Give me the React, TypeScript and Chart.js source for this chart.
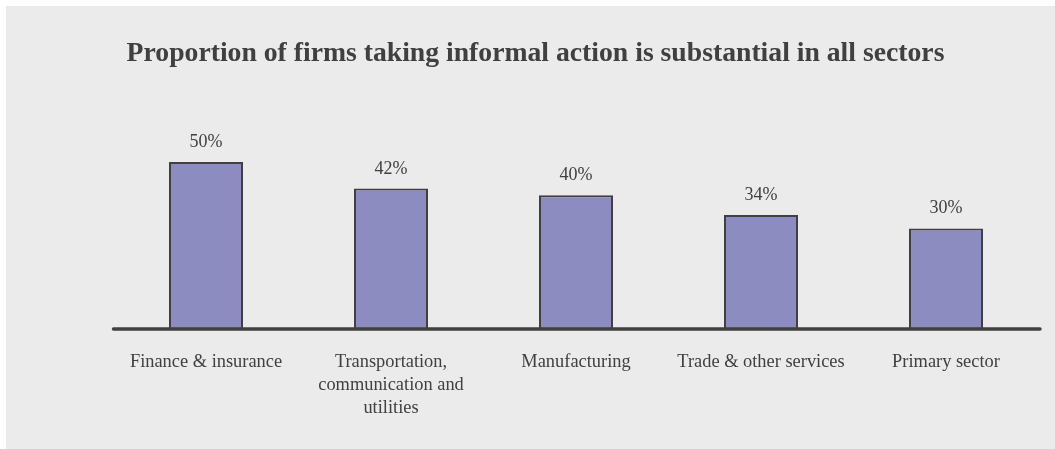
import React, { useEffect, useRef } from "react";
import { Chart, registerables } from "chart.js";

Chart.register(...registerables);

const TITLE = "Proportion of firms taking informal action is substantial in all sectors";
const categories: string[][] = [
  ["Finance & insurance"],
  ["Transportation,", "communication and", "utilities"],
  ["Manufacturing"],
  ["Trade & other services"],
  ["Primary sector"],
];
const values = [50, 42, 40, 34, 30];
const valueLabels = ["50%", "42%", "40%", "34%", "30%"];

const TEXT = "#404040";
const FONT = '"Liberation Serif", "Times New Roman", serif';

export default function App() {
  const ref = useRef<HTMLCanvasElement>(null);
  useEffect(() => {
    if (!ref.current) return;
    const overlay = {
      id: "overlay",
      afterDatasetsDraw(chart: any) {
        const ctx = chart.ctx;
        const x = chart.scales.x;
        const y = chart.scales.y;
        const base = y.getPixelForValue(0);
        ctx.save();
        // axis line
        ctx.strokeStyle = TEXT;
        ctx.lineWidth = 3.5;
        ctx.lineCap = "round";
        ctx.beginPath();
        ctx.moveTo(chart.chartArea.left, base + 1);
        ctx.lineTo(chart.chartArea.right + 1.5, base + 1);
        ctx.stroke();
        // title
        ctx.fillStyle = TEXT;
        ctx.textAlign = "center";
        ctx.textBaseline = "alphabetic";
        ctx.font = `bold 27.7px ${FONT}`;
        ctx.fillText(TITLE, 529.5, 55);
        // value labels
        ctx.font = `18px ${FONT}`;
        values.forEach((v, i) => {
          const px = x.getPixelForValue(i);
          const py = y.getPixelForValue(v);
          ctx.fillText(valueLabels[i], px, py - 15);
        });
        // category labels
        ctx.font = `18.4px ${FONT}`;
        categories.forEach((lines, i) => {
          const px = x.getPixelForValue(i);
          lines.forEach((ln, j) => {
            ctx.fillText(ln, px, base + 38.7 + j * 23);
          });
        });
        ctx.restore();
      },
    };
    const chart = new Chart(ref.current, {
      type: "bar",
      data: {
        labels: categories.map((c) => c.join(" ")),
        datasets: [
          {
            data: values,
            backgroundColor: "#8c8cc0",
            borderColor: "#404040",
            borderWidth: 2,
            borderSkipped: "bottom",
            categoryPercentage: 1,
            barPercentage: 0.4,
          },
        ],
      },
      options: {
        animation: false,
        responsive: false,
        maintainAspectRatio: false,
        layout: { padding: { left: 107.5, right: 16.5, top: 122.8, bottom: 121 } },
        plugins: { legend: { display: false }, tooltip: { enabled: false }, title: { display: false } },
        scales: {
          x: { display: false },
          y: { display: false, min: 0, max: 60 },
        },
      },
      plugins: [overlay],
    });
    return () => chart.destroy();
  }, []);
  return (
    <div style={{ position: "absolute", left: 6, top: 6, width: 1049, height: 443, background: "#ebebeb" }}>
      <canvas ref={ref} width={1049} height={443} style={{ display: "block", width: 1049, height: 443 }} />
    </div>
  );
}
